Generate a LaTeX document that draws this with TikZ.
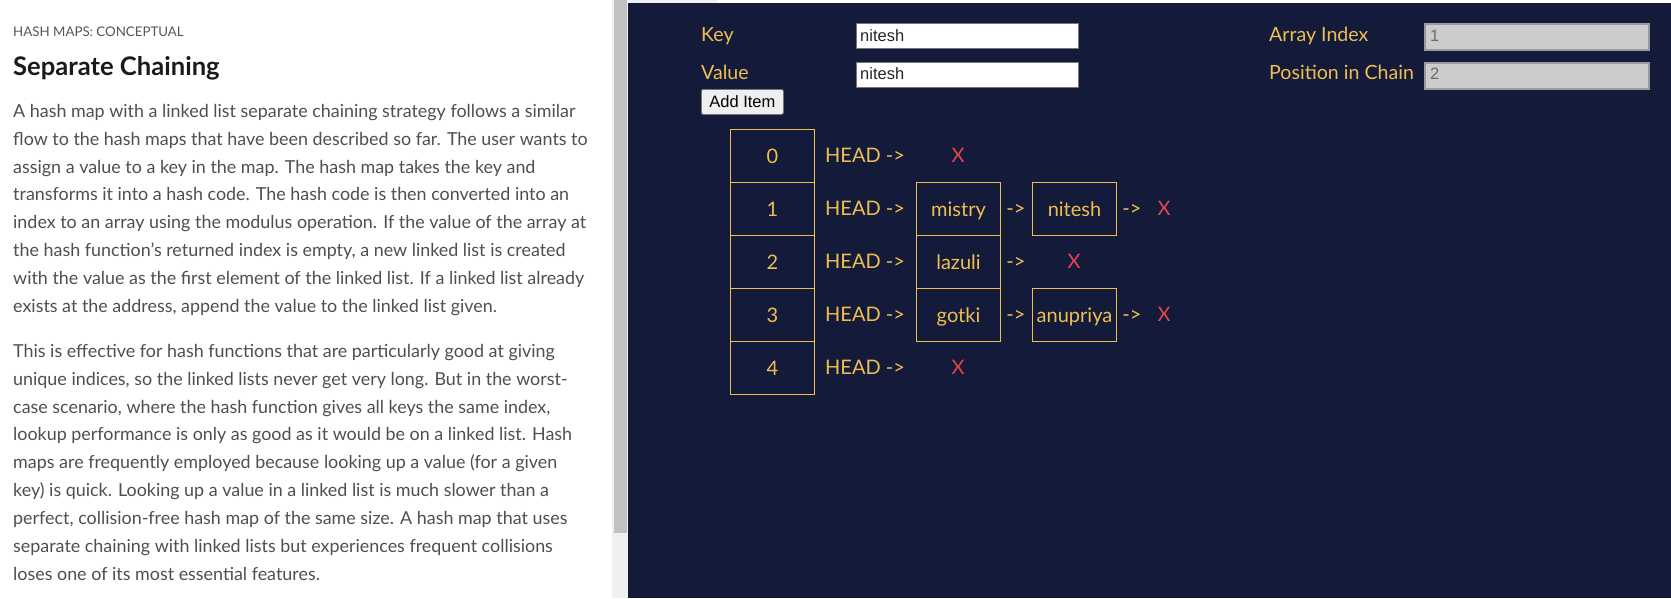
\documentclass[tikz,border=0pt]{standalone}
\usepackage{fontspec}
\setmainfont{Lato}
\newfontfamily\arialf{Liberation Sans}
\definecolor{navy}{HTML}{141B3A}
\definecolor{gold}{HTML}{EFBE4F}
\definecolor{redx}{HTML}{E5464B}
\definecolor{bodygray}{HTML}{4F4F4F}
\definecolor{headgray}{HTML}{555555}
\definecolor{titleblack}{HTML}{1A1A1A}
\definecolor{track}{HTML}{F0F0F0}
\definecolor{thumb}{HTML}{C1C1C1}
\definecolor{inborder}{HTML}{767676}
\definecolor{roborder}{HTML}{9A9A9A}
\definecolor{rofill}{HTML}{CCCCCC}
\definecolor{rotext}{HTML}{6D6D6D}
\definecolor{btnfill}{HTML}{EFEFEF}
\newcommand{\bodyfont}{\fontsize{17.9}{21}\selectfont}
\newcommand{\tabfont}{\fontsize{20}{24}\selectfont}
\newcommand{\formfont}{\fontsize{19.6}{23}\selectfont}
\newcommand{\inputfont}{\arialf\fontsize{16.5}{20}\selectfont}
\tikzset{
  body/.style={anchor=base west, inner sep=0pt, text=bodygray, font=\bodyfont},
  cell/.style={draw=gold, line width=1pt, minimum width=84pt, minimum height=53pt,
    inner sep=0pt, anchor=north west, text=gold, font=\tabfont,
    text height=18pt, text depth=3.6pt},
  tabtext/.style={anchor=base, inner sep=0pt, text=gold, font=\tabfont},
  headtext/.style={anchor=base west, inner sep=0pt, text=gold, font=\tabfont},
  xmark/.style={anchor=base, inner sep=0pt, text=redx, font=\tabfont},
  formlabel/.style={anchor=base west, inner sep=0pt, text=gold, font=\formfont},
  inbox/.style={draw=inborder, line width=1pt, fill=white, anchor=north west,
    minimum width=222pt, minimum height=25pt, inner sep=0pt},
  robox/.style={draw=roborder, line width=2pt, fill=rofill, anchor=north west,
    minimum width=224pt, minimum height=26pt, inner sep=0pt},
  intext/.style={anchor=base west, inner sep=0pt, text=black!85, font=\inputfont},
  rotextst/.style={anchor=base west, inner sep=0pt, text=rotext, font=\inputfont},
}
\begin{document}
\begin{tikzpicture}[x=1pt,y=-1pt]
\useasboundingbox (0,0) rectangle (1671,598);
\fill[white] (0,0) rectangle (1671,598);
% scrollbar
\fill[track] (612,0) rectangle (628,598);
\fill[thumb] (614,0) rectangle (627,533);
% dark panel
\fill[navy] (628,3) rectangle (1671,598);
\fill[track] (628,0) rectangle (717,3);

% ---- left text ----
\node[anchor=base west, inner sep=0pt, text=headgray, font=\fontsize{13.3}{16}\selectfont] (hdr) at (13,36) {HASH MAPS: CONCEPTUAL};
\node[anchor=base west, inner sep=0pt, text=titleblack, font=\fontsize{25.6}{30}\selectfont\bfseries] (title) at (13,75) {Separate Chaining};

\node[body] (a1) at (13,117.3) {A hash map with a linked list separate chaining strategy follows a similar};
\node[body] (a2) at (13,145.2) {flow to the hash maps that have been described so far. The user wants to};
\node[body] (a3) at (13,173.0) {assign a value to a key in the map. The hash map takes the key and};
\node[body] (a4) at (13,200.9) {transforms it into a hash code. The hash code is then converted into an};
\node[body] (a5) at (13,228.7) {index to an array using the modulus operation. If the value of the array at};
\node[body] (a6) at (13,256.6) {the hash function’s returned index is empty, a new linked list is created};
\node[body] (a7) at (13,284.4) {with the value as the first element of the linked list. If a linked list already};
\node[body] (a8) at (13,312.3) {exists at the address, append the value to the linked list given.};

\node[body] (b1) at (13,357.3) {This is effective for hash functions that are particularly good at giving};
\node[body] (b2) at (13,385.2) {unique indices, so the linked lists never get very long. But in the worst-};
\node[body] (b3) at (13,413.0) {case scenario, where the hash function gives all keys the same index,};
\node[body] (b4) at (13,440.9) {lookup performance is only as good as it would be on a linked list. Hash};
\node[body] (b5) at (13,468.7) {maps are frequently employed because looking up a value (for a given};
\node[body] (b6) at (13,496.6) {key) is quick. Looking up a value in a linked list is much slower than a};
\node[body] (b7) at (13,524.4) {perfect, collision-free hash map of the same size. A hash map that uses};
\node[body] (b8) at (13,552.3) {separate chaining with linked lists but experiences frequent collisions};
\node[body] (b9) at (13,580.1) {loses one of its most essential features.};

% ---- form ----
\node[formlabel] (keylbl) at (701,41.5) {Key};
\node[formlabel] (vallbl) at (701,79.5) {Value};
\node[inbox] (keybox) at (856,23) {};
\node[inbox] (valbox) at (856,62) {};
\node[intext] (keytxt) at (860,41.7) {nitesh};
\node[intext] (valtxt) at (860,79.3) {nitesh};
\node[draw=inborder, line width=0.8pt, fill=btnfill, rounded corners=2pt, anchor=north west,
  minimum width=82pt, minimum height=25pt, inner sep=0pt, font=\inputfont] (btn) at (701,89) {Add Item};

\node[formlabel] (ailbl) at (1269,41.7) {Array Index};
\node[formlabel] (pclbl) at (1269,79.3) {Position in Chain};
\node[robox] (aibox) at (1424,23) {};
\node[robox] (pcbox) at (1424,62) {};
\node[rotextst] (aitxt) at (1430,41.7) {1};
\node[rotextst] (pctxt) at (1430,79.3) {2};

% ---- table ----
\node[cell] (i0) at (730,129) {0};
\node[cell] (i1) at (730,182) {1};
\node[cell] (i2) at (730,235) {2};
\node[cell] (i3) at (730,288) {3};
\node[cell] (i4) at (730,341) {4};

\node[headtext] (h0) at (825,162.7) {HEAD ->};
\node[headtext] (h1) at (825,215.7) {HEAD ->};
\node[headtext] (h2) at (825,268.7) {HEAD ->};
\node[headtext] (h3) at (825,321.7) {HEAD ->};
\node[headtext] (h4) at (825,374.7) {HEAD ->};

% row 0
\node[xmark] (x0) at (958,162.7) {X};
% row 1
\node[cell] (n1a) at (916,182) {mistry};
\node[tabtext] (ar1a) at (1016,215.7) {->};
\node[cell] (n1b) at (1032,182) {nitesh};
\node[tabtext] (ar1b) at (1132,215.7) {->};
\node[xmark] (x1) at (1164,215.7) {X};
% row 2
\node[cell] (n2a) at (916,235) {lazuli};
\node[tabtext] (ar2a) at (1016,268.7) {->};
\node[xmark] (x2) at (1074,268.7) {X};
% row 3
\node[cell] (n3a) at (916,288) {gotki};
\node[tabtext] (ar3a) at (1016,321.7) {->};
\node[cell] (n3b) at (1032,288) {anupriya};
\node[tabtext] (ar3b) at (1132,321.7) {->};
\node[xmark] (x3) at (1164,321.7) {X};
% row 4
\node[xmark] (x4) at (958,374.7) {X};
\end{tikzpicture}
\end{document}
